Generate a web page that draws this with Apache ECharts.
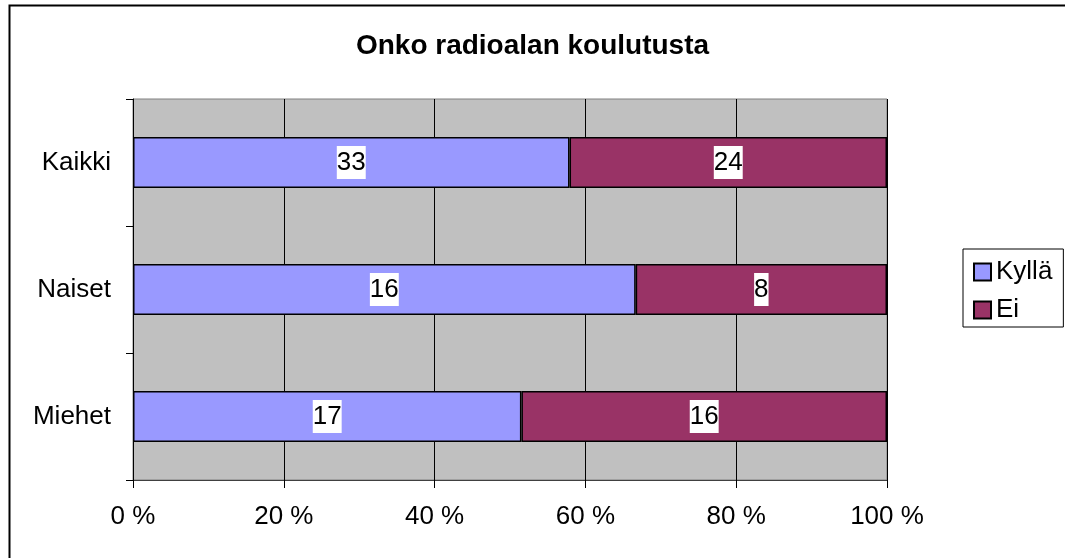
<!DOCTYPE html>
<html>
<head>
<meta charset="utf-8">
<script src="https://cdn.jsdelivr.net/npm/echarts@6/dist/echarts.min.js"></script>
<style>
  html, body { margin: 0; padding: 0; background: #fff; }
  #chart { width: 1065px; height: 558px; }
</style>
</head>
<body>
<div id="chart"></div>
<script>
  // ryhmät ylhäältä alas
  const categories = ['Kaikki', 'Naiset', 'Miehet']
  const kylla = [33, 16, 17]
  const ei = [24, 8, 16]
  const xTicks = [0, 20, 40, 60, 80, 100]

  // 100 % pinottu: osuudet lasketaan lukumääristä
  const share = (arr, i) => arr[i] / (kylla[i] + ei[i]) * 100
  const kyllaPct = kylla.map((v, i) => share(kylla, i))
  const eiPct = ei.map((v, i) => share(ei, i))

  const font = 'Liberation Sans, Arial, sans-serif'
  const label = (counts) => ({
    show: true,
    position: 'inside',
    formatter: p => counts[p.dataIndex],
    color: '#000',
    backgroundColor: '#fff',
    fontFamily: font,
    fontSize: 26,
    lineHeight: 31,
    padding: [1, 0, 1, 0]
  })

  const chart = echarts.init(document.getElementById('chart'))
  chart.setOption({
    animation: false,
    title: {
      text: 'Onko radioalan koulutusta',
      left: 'center',
      top: 27,
      textStyle: { fontFamily: font, fontSize: 28, fontWeight: 'bold', color: '#000' }
    },
    legend: {
      orient: 'vertical',
      left: 963,
      top: 249,
      itemWidth: 17,
      itemHeight: 17,
      itemGap: 12,
      padding: [10, 11, 4, 10],
      borderColor: '#000',
      borderWidth: 1,
      icon: 'rect',
      itemStyle: { borderColor: '#000', borderWidth: 2 },
      textStyle: { fontFamily: font, fontSize: 26, lineHeight: 26, color: '#000' },
      data: ['Kyllä', 'Ei']
    },
    graphic: [{
      type: 'rect',
      shape: { x: 9.5, y: 5.5, width: 1200, height: 700 },
      style: { fill: null, stroke: '#000', lineWidth: 2 },
      silent: true
    }],
    grid: {
      left: 133,
      right: 178,
      top: 99,
      bottom: 78,
      show: true,
      backgroundColor: '#C0C0C0',
      borderColor: '#808080',
      borderWidth: 1
    },
    xAxis: {
      type: 'value',
      min: xTicks[0],
      max: xTicks[xTicks.length - 1],
      interval: 20,
      axisLine: { show: true, lineStyle: { color: '#404040' } },
      axisTick: { show: true, length: 8, lineStyle: { color: '#000' } },
      axisLabel: {
        formatter: '{value} %',
        fontFamily: font,
        fontSize: 26,
        color: '#000',
        margin: 24
      },
      splitLine: { show: true, lineStyle: { color: '#000', width: 1 } }
    },
    yAxis: {
      type: 'category',
      inverse: true,
      data: categories,
      axisLine: { show: true, lineStyle: { color: '#000' } },
      axisTick: { show: true, length: 7, lineStyle: { color: '#000' } },
      axisLabel: { fontFamily: font, fontSize: 26, color: '#000', margin: 22 },
      splitLine: { show: false }
    },
    series: [
      {
        name: 'Kyllä',
        type: 'bar',
        stack: 'osuus',
        barWidth: '40%',
        data: kyllaPct,
        itemStyle: { color: '#9999FF', borderColor: '#000', borderWidth: 1.5 },
        label: label(kylla)
      },
      {
        name: 'Ei',
        type: 'bar',
        stack: 'osuus',
        data: eiPct,
        itemStyle: { color: '#993366', borderColor: '#000', borderWidth: 1.5 },
        label: label(ei)
      }
    ]
  })
</script>
</body>
</html>
